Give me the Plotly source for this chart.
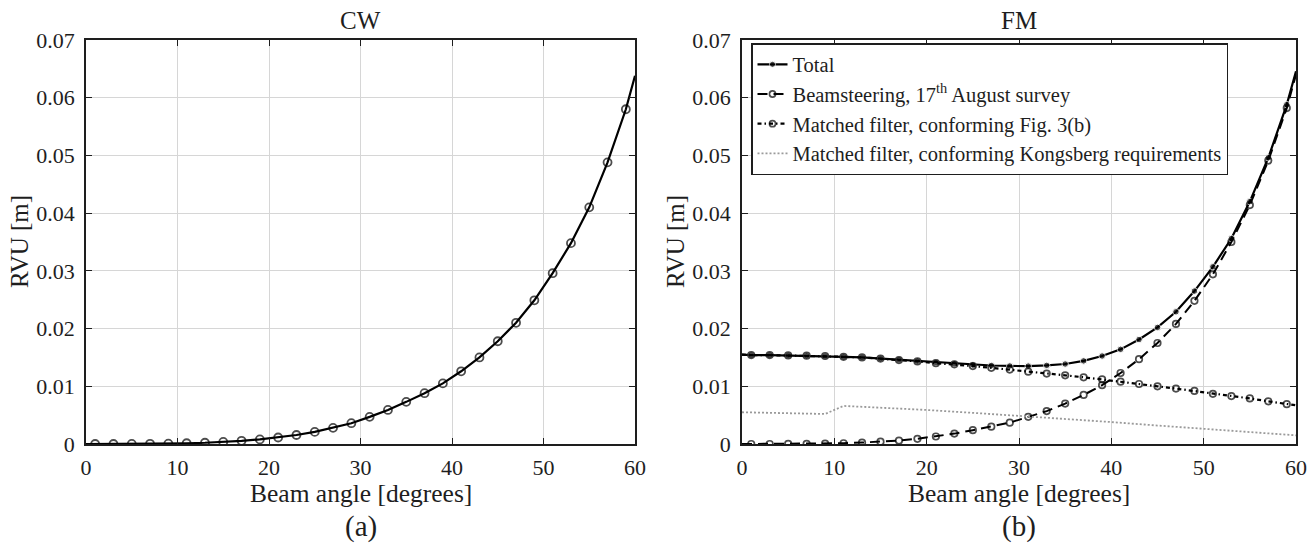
import plotly.graph_objects as go

# ---------------- data ----------------
angle = [0, 1, 3, 5, 7, 9, 11, 13, 15, 17, 19, 21, 23, 25, 27, 29, 31, 33, 35, 37,
         39, 41, 43, 45, 47, 49, 51, 53, 55, 57, 59, 60]

cw_rvu = [0, 0.0, 0.0, 0.00001, 0.00003, 0.00007, 0.00013, 0.00022, 0.00036, 0.00055,
          0.0008, 0.00113, 0.00156, 0.0021, 0.0028, 0.0036, 0.0047, 0.0059, 0.0073, 0.0088,
          0.0105, 0.0126, 0.0150, 0.0178, 0.0210, 0.0249, 0.0296, 0.0348, 0.0410, 0.0488,
          0.0580, 0.0638]

fm_total = [0.0155, 0.0154, 0.0154, 0.01535, 0.0153, 0.01525, 0.0151, 0.0150, 0.0148, 0.01458,
            0.01435, 0.0141, 0.0139, 0.0137, 0.0136, 0.01352, 0.0135, 0.01362, 0.01386, 0.0144,
            0.01525, 0.0164, 0.0181, 0.0202, 0.0229, 0.0265, 0.0307, 0.0356, 0.0420, 0.0496,
            0.0588, 0.0646]

fm_beamsteering = [0, 0.0, 0.0, 0.00001, 0.00003, 0.00007, 0.00013, 0.00025, 0.0004, 0.0006,
                   0.0009, 0.0013, 0.0018, 0.0024, 0.0030, 0.0037, 0.0047, 0.0057, 0.0070, 0.0085,
                   0.0102, 0.0123, 0.0147, 0.0175, 0.0208, 0.0248, 0.0294, 0.0350, 0.0414, 0.0491,
                   0.0582, 0.0640]

fm_matched_fig3b = [0.0155, 0.0154, 0.0154, 0.01535, 0.0153, 0.01525, 0.0151, 0.0150, 0.0148, 0.01455,
                    0.0143, 0.0140, 0.0138, 0.0135, 0.0132, 0.0129, 0.01253, 0.0122, 0.0119, 0.01156,
                    0.0112, 0.0108, 0.0104, 0.0100, 0.0096, 0.0092, 0.0087, 0.0083, 0.0079, 0.0074,
                    0.0069, 0.0067]

kongsberg_angle = [0, 5, 9, 11, 15, 20, 25, 28, 35, 40, 45, 50, 55, 60]
fm_matched_kongsberg = [0.0055, 0.0053, 0.0052, 0.0066, 0.0063, 0.0059, 0.0054, 0.0051,
                        0.0043, 0.0038, 0.0032, 0.0026, 0.0021, 0.0015]

y_ticks = [0, 0.01, 0.02, 0.03, 0.04, 0.05, 0.06, 0.07]
y_ticktext = ["0", "0.01", "0.02", "0.03", "0.04", "0.05", "0.06", "0.07"]
x_ticks = [0, 10, 20, 30, 40, 50, 60]

# ---------------- style ----------------
FONT = "Liberation Serif"
INK = "#1e1e1e"
W, H = 1315, 543
n = len(angle)


def msizes(s):
    return [0] + [s] * (n - 2) + [0]


fig = go.Figure()

# CW
fig.add_trace(go.Scatter(
    x=angle, y=cw_rvu, mode="lines+markers", xaxis="x", yaxis="y", showlegend=False,
    line=dict(color="black", width=2.2),
    marker=dict(symbol="circle-open", size=msizes(8), color="black", line=dict(width=1.8)),
))

# FM
fig.add_trace(go.Scatter(
    x=angle, y=fm_total, mode="lines+markers", xaxis="x2", yaxis="y2", name="Total",
    line=dict(color="black", width=2.2),
    marker=dict(symbol="circle", size=msizes(6.5), color="black"),
))
fig.add_trace(go.Scatter(
    x=angle, y=fm_beamsteering, mode="lines+markers", xaxis="x2", yaxis="y2",
    name="Beamsteering, 17<sup>th</sup> August survey",
    line=dict(color="black", width=2, dash="10px,6px"),
    marker=dict(symbol="circle-open", size=msizes(6.5), color="black", line=dict(width=1.7)),
))
fig.add_trace(go.Scatter(
    x=angle, y=fm_matched_fig3b, mode="lines+markers", xaxis="x2", yaxis="y2",
    name="Matched filter, conforming Fig. 3(b)",
    line=dict(color="black", width=2.2, dash="4px,3px,1.5px,3px"),
    marker=dict(symbol="circle-open", size=msizes(6.5), color="black", line=dict(width=1.7)),
))
fig.add_trace(go.Scatter(
    x=kongsberg_angle, y=fm_matched_kongsberg, mode="lines", xaxis="x2", yaxis="y2",
    name="Matched filter, conforming Kongsberg requirements",
    line=dict(color="#9a9a9a", width=1.8, dash="2px,2px"),
))

# ---------------- layout ----------------
y_dom = [(H - 444) / H, (H - 40) / H]
xl_dom = [86 / W, 635 / W]
xr_dom = [742 / W, 1296 / W]

axis_common = dict(
    showline=True, linecolor=INK, linewidth=1.5, mirror="ticks",
    ticks="inside", ticklen=6, tickcolor=INK, tickwidth=1.3,
    showgrid=True, gridcolor="#d6d6d6", gridwidth=1, zeroline=False,
    automargin=False,
    tickfont=dict(family=FONT, size=22, color=INK),
)

xcommon = dict(axis_common, range=[0, 60], tickvals=x_ticks, ticklabelstandoff=3)
ycommon = dict(axis_common, range=[0, 0.07], tickvals=y_ticks, ticktext=y_ticktext,
               ticklabelstandoff=5)

fig.update_layout(
    width=W, height=H,
    margin=dict(l=0, r=0, t=0, b=0, autoexpand=False),
    paper_bgcolor="white", plot_bgcolor="white",
    font=dict(family=FONT, color=INK),
    xaxis=dict(xcommon, domain=xl_dom, anchor="y"),
    yaxis=dict(ycommon, domain=y_dom, anchor="x"),
    xaxis2=dict(xcommon, domain=xr_dom, anchor="y2"),
    yaxis2=dict(ycommon, domain=y_dom, anchor="x2"),
    legend=dict(
        x=751 / W, y=(H - 43) / H, xanchor="left", yanchor="top",
        bgcolor="white", bordercolor=INK, borderwidth=1.5,
        font=dict(family=FONT, size=20.5, color=INK),
        itemwidth=30, tracegroupgap=0,
    ),
)

annotations = []
for dom, title, lab in [(xl_dom, "CW", "(a)"), (xr_dom, "FM", "(b)")]:
    cx = (dom[0] + dom[1]) / 2
    annotations.append(dict(x=cx, y=(H - 20) / H, xref="paper", yref="paper", text=title,
                            showarrow=False, font=dict(family=FONT, size=25, color=INK),
                            xanchor="center", yanchor="middle"))
    annotations.append(dict(x=cx, y=(H - 493) / H, xref="paper", yref="paper",
                            text="Beam angle [degrees]", showarrow=False,
                            font=dict(family=FONT, size=25.5, color=INK),
                            xanchor="center", yanchor="middle"))
    annotations.append(dict(x=cx, y=(H - 526) / H, xref="paper", yref="paper", text=lab,
                            showarrow=False, font=dict(family=FONT, size=29, color=INK),
                            xanchor="center", yanchor="middle"))
    annotations.append(dict(x=(dom[0] * W - 66) / W, y=(y_dom[0] + y_dom[1]) / 2,
                            xref="paper", yref="paper", text="RVU [m]", textangle=-90,
                            showarrow=False, font=dict(family=FONT, size=25, color=INK),
                            xanchor="center", yanchor="middle"))
fig.update_layout(annotations=annotations)

fig.write_html(
    "out.html",
    config={"displayModeBar": False},
    post_script="document.body.style.margin='0';document.body.style.padding='0';",
)
